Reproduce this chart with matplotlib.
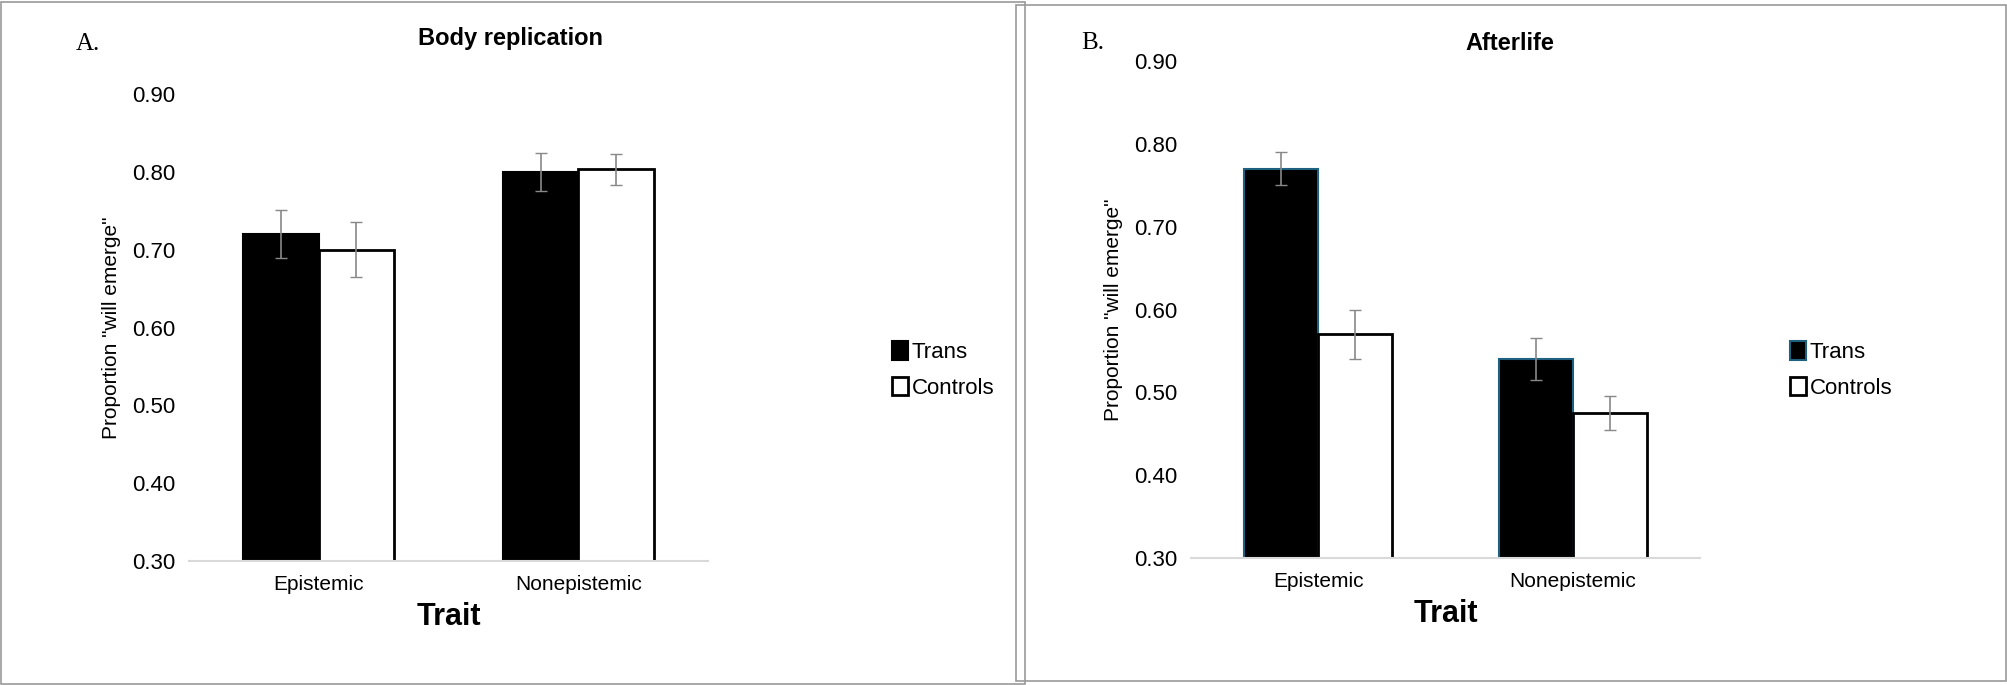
import numpy as np
import matplotlib
matplotlib.use("Agg")
import matplotlib.pyplot as plt
from matplotlib.patches import Rectangle

plt.rcParams['font.family'] = 'Liberation Sans'

categories = ['Epistemic', 'Nonepistemic']
series = ['Trans', 'Controls']

# panel A: body replication
a_trans = [0.72, 0.80]
a_trans_err = [0.031, 0.024]
a_ctrl = [0.70, 0.803]
a_ctrl_err = [0.035, 0.020]

# panel B: afterlife
b_trans = [0.77, 0.54]
b_trans_err = [0.020, 0.025]
b_ctrl = [0.57, 0.475]
b_ctrl_err = [0.030, 0.020]

yticks = [0.30, 0.40, 0.50, 0.60, 0.70, 0.80, 0.90]

W, H = 2008, 685
fig = plt.figure(figsize=(W / 100, H / 100), dpi=100)

# panel borders
fig.patches.append(Rectangle((1 / W, 1 / H), 1024 / W, 682 / H, transform=fig.transFigure,
                             fill=False, edgecolor='#999999', lw=1.2))
fig.patches.append(Rectangle((1016 / W, 4 / H), 990 / W, 676 / H, transform=fig.transFigure,
                             fill=False, edgecolor='#999999', lw=1.2))


def panel(x0, x1, ytop, ybot, trans, terr, ctrl, cerr, title, tx, ty, letter, lx, ly, legx,
          trans_edge):
    ax = fig.add_axes([x0 / W, 1 - ybot / H, (x1 - x0) / W, (ybot - ytop) / H])
    x = np.arange(len(categories))
    w = 0.29
    ax.bar(x - w / 2, trans, w, bottom=0, color='black', edgecolor=trans_edge, lw=1.5,
           label=series[0])
    ax.bar(x + w / 2, ctrl, w, color='white', edgecolor='black', lw=2, label=series[1])
    ax.errorbar(x - w / 2, trans, yerr=terr, fmt='none', ecolor='#888888', elinewidth=1.2,
                capsize=4)
    ax.errorbar(x + w / 2, ctrl, yerr=cerr, fmt='none', ecolor='#888888', elinewidth=1.2,
                capsize=4)
    ax.set_ylim(0.30, 0.90)
    ax.set_xlim(-0.5, 1.5)
    ax.set_yticks(yticks)
    ax.set_yticklabels(['%.2f' % v for v in yticks], fontsize=16)
    ax.set_xticks(x)
    ax.set_xticklabels(categories, fontsize=15)
    ax.tick_params(length=0, pad=10)
    for s in ['top', 'right', 'left']:
        ax.spines[s].set_visible(False)
    ax.spines['bottom'].set_color('#d9d9d9')
    ax.spines['bottom'].set_linewidth(1.5)
    ax.set_ylabel('Proportion "will emerge"', fontsize=15, labelpad=8)
    ax.set_xlabel('Trait', fontsize=22, fontweight='bold', labelpad=6)
    fig.text(tx / W, 1 - ty / H, title, ha='center', va='center', fontsize=17,
             fontweight='bold')
    fig.text(lx / W, 1 - ly / H, letter, ha='center', va='center', fontsize=18,
             family='Liberation Serif')
    handles, labels = ax.get_legend_handles_labels()
    fig.legend(handles, labels, loc='center left', bbox_to_anchor=(legx / W, 1 - 370 / H),
               frameon=False, fontsize=16, handlelength=0.7, handleheight=0.9,
               handletextpad=0.2, labelspacing=0.6)
    return ax


panel(189, 708, 94, 561, a_trans, a_trans_err, a_ctrl, a_ctrl_err,
      'Body replication', 511, 39, 'A.', 88, 44, 872, 'black')
panel(1191, 1700, 61, 558, b_trans, b_trans_err, b_ctrl, b_ctrl_err,
      'Afterlife', 1510, 44, 'B.', 1093, 43, 1770, '#1f5f7f')

fig.savefig('out.png', dpi=100)
